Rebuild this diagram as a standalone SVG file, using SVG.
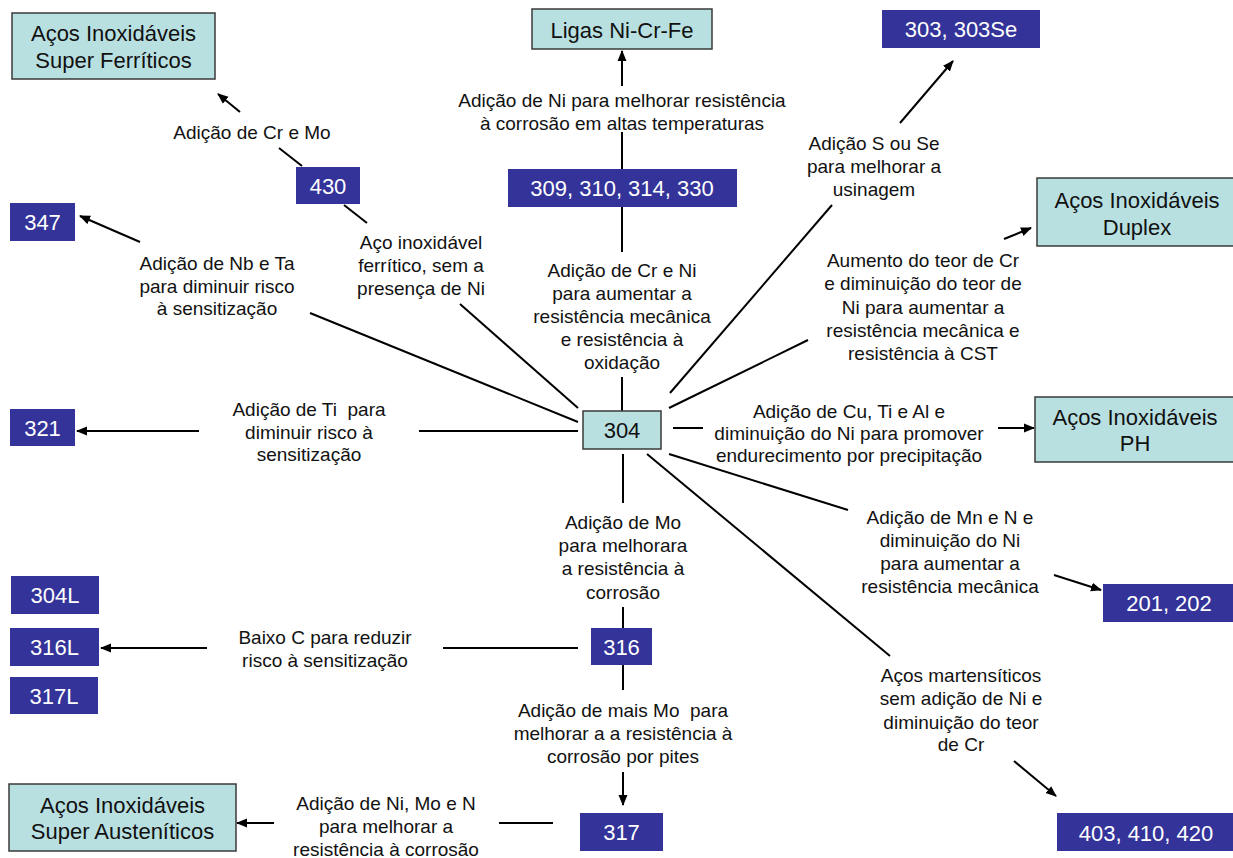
<svg xmlns="http://www.w3.org/2000/svg" width="1233" height="858" viewBox="0 0 1233 858">
<style>
.lt{fill:#b9e0e1;stroke:#3a3a3a;stroke-width:1.5}
.dk{fill:#333399}
.tl{font-family:"Liberation Sans",Arial,sans-serif;font-size:22px;fill:#111;text-anchor:middle}
.td{font-family:"Liberation Sans",Arial,sans-serif;font-size:22px;fill:#fff;text-anchor:middle}
.lb{font-family:"Liberation Sans",Arial,sans-serif;font-size:19px;fill:#111;text-anchor:middle}
.c{stroke:#000;stroke-width:2;fill:none}
.a{marker-end:url(#ah)}
</style>
<defs>
<marker id="ah" markerUnits="userSpaceOnUse" markerWidth="12" markerHeight="10" refX="10" refY="5" orient="auto">
<path d="M0,0.5 L11,5 L0,9.5 z" fill="#000"/>
</marker>
</defs>
<rect width="1233" height="858" fill="#fff"/>

<g id="connectors">
<line class="c a" x1="240" y1="112" x2="218" y2="94"/>
<line class="c" x1="279" y1="148" x2="302" y2="166"/>
<line class="c" x1="344" y1="205" x2="367" y2="223"/>
<line class="c" x1="460" y1="304" x2="578" y2="408"/>
<line class="c a" x1="140" y1="242" x2="80" y2="216"/>
<line class="c" x1="310" y1="313" x2="578" y2="422"/>
<line class="c a" x1="199" y1="431" x2="77" y2="431"/>
<line class="c" x1="419" y1="431" x2="578" y2="431"/>
<line class="c" x1="622" y1="377" x2="622" y2="411"/>
<line class="c" x1="622" y1="207" x2="622" y2="252"/>
<line class="c" x1="622" y1="132" x2="622" y2="169"/>
<line class="c a" x1="622" y1="86" x2="622" y2="51"/>
<line class="c a" x1="900" y1="123" x2="953" y2="61"/>
<line class="c" x1="832" y1="205" x2="670" y2="393"/>
<line class="c a" x1="1004" y1="239" x2="1031" y2="228"/>
<line class="c" x1="808" y1="340" x2="669" y2="408"/>
<line class="c" x1="673" y1="428" x2="703" y2="428"/>
<line class="c a" x1="998" y1="428" x2="1034" y2="428"/>
<line class="c" x1="669" y1="454" x2="848" y2="510"/>
<line class="c a" x1="1054" y1="575" x2="1101" y2="590"/>
<line class="c" x1="647" y1="454" x2="890" y2="656"/>
<line class="c a" x1="1014" y1="761" x2="1056" y2="796"/>
<line class="c" x1="623" y1="454" x2="623" y2="503"/>
<line class="c" x1="623" y1="607" x2="623" y2="628"/>
<line class="c" x1="443" y1="648" x2="578" y2="648"/>
<line class="c a" x1="207" y1="648" x2="101" y2="648"/>
<line class="c" x1="623" y1="665" x2="623" y2="690"/>
<line class="c a" x1="623" y1="772" x2="623" y2="805"/>
<line class="c" x1="499" y1="823" x2="553" y2="823"/>
<line class="c a" x1="274" y1="823" x2="237" y2="823"/>
</g>

<g id="n-superferriticos"><rect class="lt" x="12" y="13" width="203" height="66"/><text class="tl" x="113.5" y="41">Aços Inoxidáveis</text><text class="tl" x="113.5" y="68">Super Ferríticos</text></g>
<g id="n-ligas"><rect class="lt" x="532" y="9" width="180" height="40"/><text class="tl" x="622" y="38">Ligas Ni-Cr-Fe</text></g>
<g id="n-303"><rect class="dk" x="882" y="10" width="158" height="38"/><text class="td" x="961" y="37">303, 303Se</text></g>
<g id="n-430"><rect class="dk" x="296" y="167" width="64" height="37"/><text class="td" x="328" y="194">430</text></g>
<g id="n-347"><rect class="dk" x="10" y="203" width="65" height="38"/><text class="td" x="42.5" y="230">347</text></g>
<g id="n-309"><rect class="dk" x="508" y="169" width="229" height="38"/><text class="td" x="622" y="196">309, 310, 314, 330</text></g>
<g id="n-duplex"><rect class="lt" x="1037" y="178" width="198" height="68"/><text class="tl" x="1137" y="208">Aços Inoxidáveis</text><text class="tl" x="1137" y="235">Duplex</text></g>
<g id="n-321"><rect class="dk" x="10" y="409" width="65" height="37"/><text class="td" x="42.5" y="436">321</text></g>
<g id="n-304"><rect class="lt" x="583" y="411" width="78" height="38"/><text class="tl" x="622" y="438">304</text></g>
<g id="n-ph"><rect class="lt" x="1035" y="397" width="200" height="65"/><text class="tl" x="1135" y="425">Aços Inoxidáveis</text><text class="tl" x="1135" y="451">PH</text></g>
<g id="n-201"><rect class="dk" x="1103" y="584" width="132" height="38"/><text class="td" x="1169" y="611">201, 202</text></g>
<g id="n-304l"><rect class="dk" x="11" y="576" width="88" height="38"/><text class="td" x="55" y="603">304L</text></g>
<g id="n-316l"><rect class="dk" x="10" y="628" width="89" height="38"/><text class="td" x="54.5" y="655">316L</text></g>
<g id="n-317l"><rect class="dk" x="10" y="677" width="88" height="37"/><text class="td" x="54" y="704">317L</text></g>
<g id="n-316"><rect class="dk" x="591" y="628" width="61" height="37"/><text class="td" x="621.5" y="655">316</text></g>
<g id="n-superaustenitico"><rect class="lt" x="9" y="784" width="227" height="67"/><text class="tl" x="122.5" y="813">Aços Inoxidáveis</text><text class="tl" x="122.5" y="839">Super Austeníticos</text></g>
<g id="n-317"><rect class="dk" x="580" y="813" width="83" height="38"/><text class="td" x="621.5" y="840">317</text></g>
<g id="n-403"><rect class="dk" x="1057" y="813" width="178" height="38"/><text class="td" x="1146" y="841">403, 410, 420</text></g>

<g id="labels">
<text class="lb" x="252" y="139">Adição de Cr e Mo</text>
<text class="lb" x="421" y="249">Aço inoxidável</text>
<text class="lb" x="421" y="272">ferrítico, sem a</text>
<text class="lb" x="421" y="295">presença de Ni</text>
<text class="lb" x="217" y="270">Adição de Nb e Ta</text>
<text class="lb" x="217" y="293">para diminuir risco</text>
<text class="lb" x="217" y="315">à sensitização</text>
<text class="lb" x="309" y="416" xml:space="preserve">Adição de Ti  para</text>
<text class="lb" x="309" y="439">diminuir risco à</text>
<text class="lb" x="309" y="461">sensitização</text>
<text class="lb" x="622" y="107">Adição de Ni para melhorar resistência</text>
<text class="lb" x="622" y="130">à corrosão em altas temperaturas</text>
<text class="lb" x="622" y="277">Adição de Cr e Ni</text>
<text class="lb" x="622" y="300">para aumentar a</text>
<text class="lb" x="622" y="323">resistência mecânica</text>
<text class="lb" x="622" y="346">e resistência à</text>
<text class="lb" x="622" y="369">oxidação</text>
<text class="lb" x="874" y="150">Adição S ou Se</text>
<text class="lb" x="874" y="173">para melhorar a</text>
<text class="lb" x="874" y="196">usinagem</text>
<text class="lb" x="923" y="267">Aumento do teor de Cr</text>
<text class="lb" x="923" y="290">e diminuição do teor de</text>
<text class="lb" x="923" y="314">Ni para aumentar a</text>
<text class="lb" x="923" y="337">resistência mecânica e</text>
<text class="lb" x="923" y="360">resistência à CST</text>
<text class="lb" x="849" y="418">Adição de Cu, Ti e Al e</text>
<text class="lb" x="849" y="440">diminuição do Ni para promover</text>
<text class="lb" x="849" y="462">endurecimento por precipitação</text>
<text class="lb" x="950" y="524">Adição de Mn e N e</text>
<text class="lb" x="950" y="547">diminuição do Ni</text>
<text class="lb" x="950" y="570">para aumentar a</text>
<text class="lb" x="950" y="593">resistência mecânica</text>
<text class="lb" x="961" y="682">Aços martensíticos</text>
<text class="lb" x="961" y="705">sem adição de Ni e</text>
<text class="lb" x="961" y="729">diminuição do teor</text>
<text class="lb" x="961" y="751">de Cr</text>
<text class="lb" x="623" y="529">Adição de Mo</text>
<text class="lb" x="623" y="552">para melhorara</text>
<text class="lb" x="623" y="575">a resistência à</text>
<text class="lb" x="623" y="599">corrosão</text>
<text class="lb" x="325" y="644">Baixo C para reduzir</text>
<text class="lb" x="325" y="667">risco à sensitização</text>
<text class="lb" x="623" y="717" xml:space="preserve">Adição de mais Mo  para</text>
<text class="lb" x="623" y="740">melhorar a a resistência à</text>
<text class="lb" x="623" y="763">corrosão por pites</text>
<text class="lb" x="386" y="810">Adição de Ni, Mo e N</text>
<text class="lb" x="386" y="833">para melhorar a</text>
<text class="lb" x="386" y="856">resistência à corrosão</text>
</g>
</svg>
